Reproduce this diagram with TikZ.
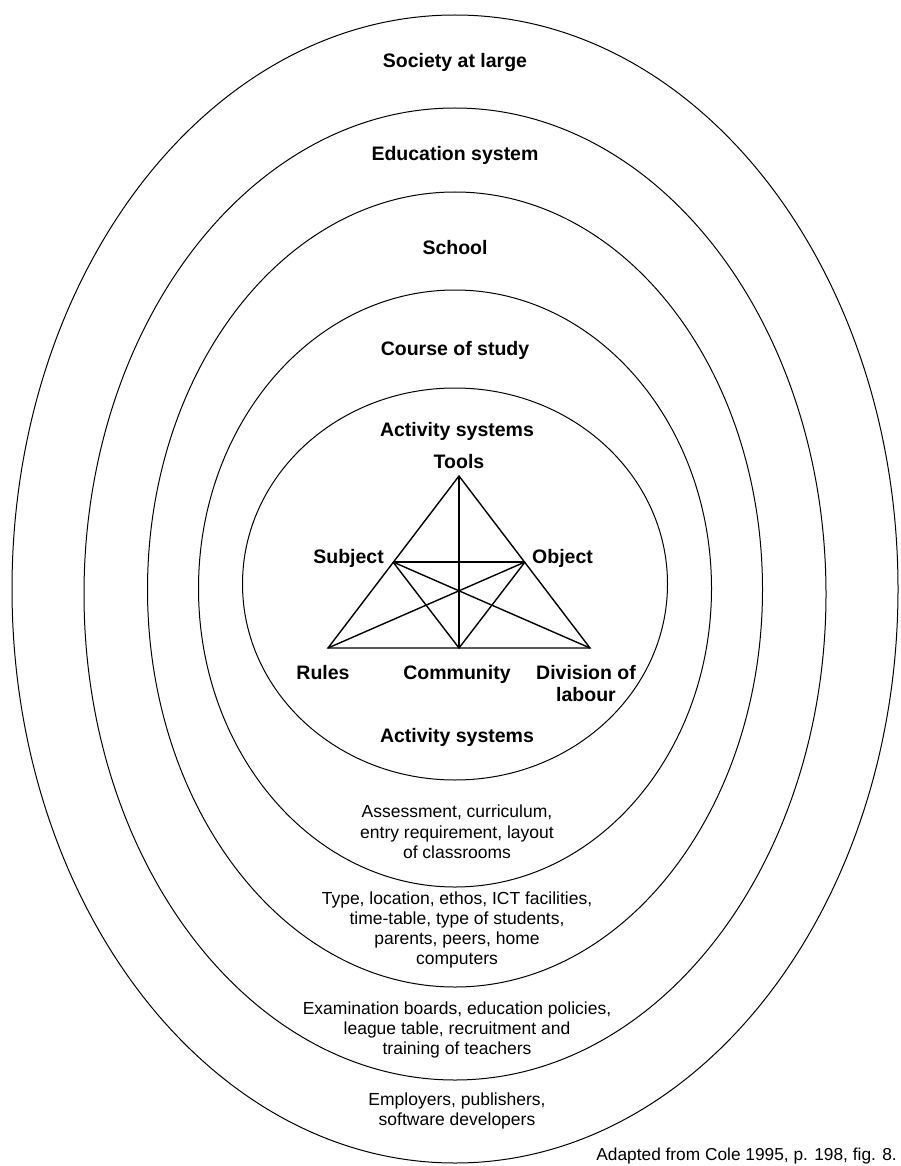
\documentclass[tikz,border=0pt]{standalone}
\usepackage{fontspec}
\setmainfont{Liberation Sans}
\begin{document}
\begin{tikzpicture}[x=1pt,y=-1pt,
  ring/.style={line width=1pt},
  edge/.style={line width=1.4pt},
  level/.style={font=\bfseries\fontsize{19.5}{22}\selectfont, inner sep=0pt},
  corner/.style={font=\bfseries\fontsize{19.5}{22}\selectfont, inner sep=0pt, align=center},
  notes/.style={font=\fontsize{17.5}{20.3}\selectfont, inner sep=0pt, align=center},
  source/.style={font=\fontsize{17.3}{20}\selectfont, inner sep=0pt}]
\useasboundingbox (0,0) rectangle (900,1166);

% nested contexts
\draw[ring] (455,589) ellipse [x radius=443, y radius=574];
\draw[ring] (455,594) ellipse [x radius=371, y radius=486];
\draw[ring] (455,589.5) ellipse [x radius=307.5, y radius=397.5];
\draw[ring] (455,588.5) ellipse [x radius=256.5, y radius=298.5];
\draw[ring] (455,584) ellipse [x radius=212.5, y radius=196];

% level names
\node[level] (society) at (455,63) {Society at large};
\node[level] (edu) at (455,155) {Education system};
\node[level] (school) at (455,248) {School};
\node[level] (course) at (455,350) {Course of study};
\node[level] (acttop) at (457,431) {Activity systems};
\node[level] (actbot) at (457,737) {Activity systems};

% activity triangle
\coordinate (tools) at (459,476);
\coordinate (subject) at (393,562);
\coordinate (object) at (525,562);
\coordinate (rules) at (328,648);
\coordinate (community) at (459,648);
\coordinate (division) at (590,648);

\draw[edge, line join=miter] (rules) -- (tools) -- (division) -- cycle;
\draw[edge] (tools) -- (community);
\draw[edge] (subject) -- (object);
\draw[edge] (subject) -- (community) -- (object);
\draw[edge] (subject) -- (division);
\draw[edge] (object) -- (rules);

\node[corner, anchor=base] (ltools) at (459,468) {Tools};
\node[corner, anchor=base east] (lsubject) at (384,563) {Subject};
\node[corner, anchor=base west] (lobject) at (532,563) {Object};
\node[corner, anchor=base] (lrules) at (323,679) {Rules};
\node[corner, anchor=base] (lcommunity) at (457,679) {Community};
% the base of a two-line label is its last line
\node[corner, anchor=base] (ldivision) at (586,701) {Division of\\labour};

% factors of each context
\node[notes] (ncourse) at (457,832) {Assessment, curriculum,\\entry requirement, layout\\of classrooms};
\node[notes] (nschool) at (457,930) {Type, location, ethos, ICT facilities,\\time-table, type of students,\\parents, peers, home\\computers};
\node[notes] (nedu) at (457,1030) {Examination boards, education policies,\\league table, recruitment and\\training of teachers};
\node[notes] (nsociety) at (457,1111) {Employers, publishers,\\software developers};

\node[source, anchor=east] (credit) at (897,1156) {Adapted from Cole 1995, p. 198, fig. 8.};
\end{tikzpicture}
\end{document}
